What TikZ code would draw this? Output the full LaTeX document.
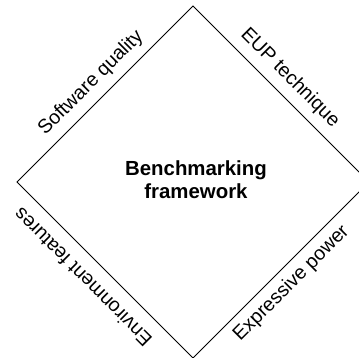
\documentclass[tikz,border=0pt]{standalone}
\usepackage{fontspec}
\setmainfont{Liberation Sans}
\begin{document}
\begin{tikzpicture}[x=1pt,y=-1pt,
  edgelbl/.style={font=\fontsize{19.6}{22}\selectfont, inner sep=0pt},
  ctr/.style={font=\fontsize{20.4}{23.4}\selectfont\bfseries, align=center, inner sep=0pt},
  frame/.style={draw=black, line width=1pt, line join=miter}]
\useasboundingbox (0,0) rectangle (359,358);
\coordinate (T) at (193,6);
\coordinate (R) at (369,182);
\coordinate (B) at (193,358);
\coordinate (L) at (17,182);
\draw[frame] (T) -- (R) -- (B) -- (L) -- cycle;
\node[ctr] (c) at (196,180) {Benchmarking\\framework};
\node[edgelbl, rotate=45] (sq) at (91,83) {Software quality};
\node[edgelbl, rotate=-45] (eup) at (290,78) {EUP technique};
\node[edgelbl, rotate=135] (env) at (82.5,277.5) {Environment features};
\node[edgelbl, rotate=45] (exp) at (291.5,283.5) {Expressive power};
\end{tikzpicture}
\end{document}
